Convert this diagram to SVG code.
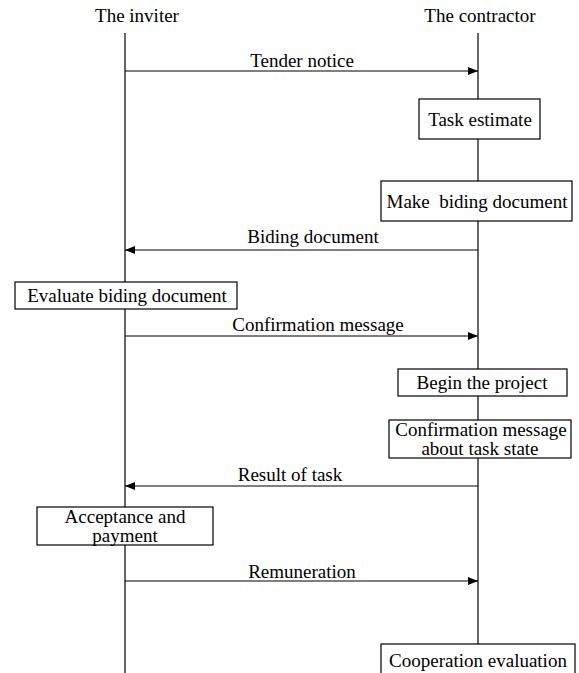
<svg xmlns="http://www.w3.org/2000/svg" width="579" height="673" viewBox="0 0 579 673">
  <style>
    .bg { fill: #ffffff; }
    .life { stroke: #000; stroke-width: 1.2; fill: none; }
    .msg { stroke: #000; stroke-width: 1.2; fill: none; }
    .box { fill: #ffffff; stroke: #000; stroke-width: 1.2; }
    text { font-family: "Liberation Serif", "Times New Roman", serif; font-size: 19px; fill: #000; text-anchor: middle; white-space: pre; }
  </style>
  <defs>
    <marker id="arrow" viewBox="0 0 10 8" refX="10" refY="4" markerWidth="10" markerHeight="8" markerUnits="userSpaceOnUse" orient="auto">
      <path d="M0,0 L10,4 L0,8 Z" fill="#000"/>
    </marker>
  </defs>
  <rect class="bg" x="0" y="0" width="579" height="673"/>

  <!-- lifelines -->
  <g id="lifelines">
    <line class="life" x1="125" y1="33" x2="125" y2="673"/>
    <line class="life" x1="478" y1="33" x2="478" y2="673"/>
  </g>

  <g id="inviter"><text x="137" y="22">The inviter</text></g>
  <g id="contractor"><text x="480" y="22">The contractor</text></g>

  <!-- messages between the two parties -->
  <g id="connectors">
    <line class="msg" x1="125" y1="71" x2="478" y2="71" marker-end="url(#arrow)"/>
    <line class="msg" x1="478" y1="250" x2="125" y2="250" marker-end="url(#arrow)"/>
    <line class="msg" x1="125" y1="336" x2="478" y2="336" marker-end="url(#arrow)"/>
    <line class="msg" x1="478" y1="486" x2="125" y2="486" marker-end="url(#arrow)"/>
    <line class="msg" x1="125" y1="581" x2="478" y2="581" marker-end="url(#arrow)"/>
    <text x="302" y="67">Tender notice</text>
    <text x="313" y="243">Biding document</text>
    <text x="318" y="331">Confirmation message</text>
    <text x="290" y="481">Result of task</text>
    <text x="302" y="578">Remuneration</text>
  </g>

  <g id="task-estimate">
    <rect class="box" x="419" y="99" width="121" height="40"/>
    <text x="480" y="126">Task estimate</text>
  </g>
  <g id="make-biding-document">
    <rect class="box" x="381" y="181" width="191" height="40"/>
    <text x="477" y="208">Make  biding document</text>
  </g>
  <g id="evaluate-biding-document">
    <rect class="box" x="15" y="282" width="222" height="27"/>
    <text x="127" y="302">Evaluate biding document</text>
  </g>
  <g id="begin-project">
    <rect class="box" x="398" y="369" width="169" height="27"/>
    <text x="482" y="389">Begin the project</text>
  </g>
  <g id="confirm-task-state">
    <rect class="box" x="389" y="420" width="182" height="38"/>
    <text x="481" y="436">Confirmation message</text>
    <text x="480" y="455">about task state</text>
  </g>
  <g id="acceptance-payment">
    <rect class="box" x="37" y="507" width="176" height="38"/>
    <text x="125" y="523">Acceptance and</text>
    <text x="125" y="542">payment</text>
  </g>
  <g id="cooperation-evaluation">
    <rect class="box" x="381" y="644" width="194" height="34"/>
    <text x="478" y="667">Cooperation evaluation</text>
  </g>
</svg>
